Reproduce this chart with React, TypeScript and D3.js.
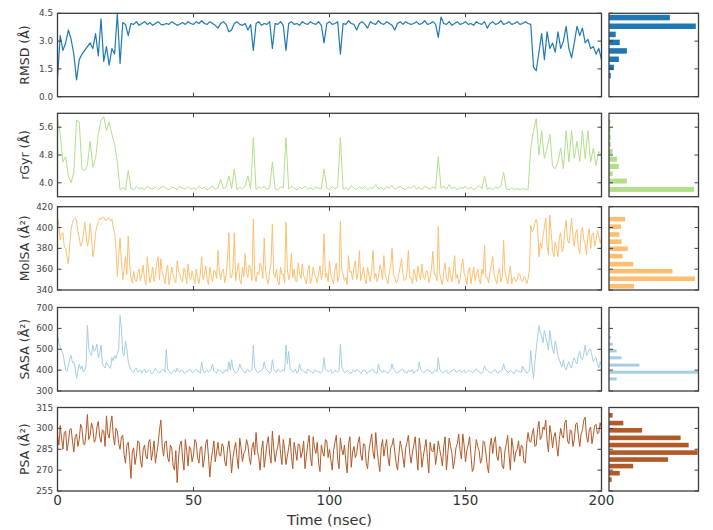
import React from 'react';
import * as d3 from 'd3';

const TIME_TICKS = [0, 50, 100, 150, 200];
const T_END = 200;

const rmsd = [
  1.0, 3.3, 2.5, 2.9, 3.6, 3.1, 2.3, 0.9, 2.0, 2.3,
  2.5, 2.7, 2.9, 2.6, 3.4, 2.2, 4.2, 1.9, 2.7, 1.7,
  2.6, 2.3, 4.5, 1.8, 4.0, 3.9, 3.3, 3.95, 3.9, 4.05,
  3.85, 3.95, 4.05, 3.9, 4.0, 3.85, 3.95, 4.05, 3.9, 3.88,
  3.95, 3.9, 4.05, 3.95, 3.85, 3.92, 4.0, 3.9, 4.05, 3.95,
  3.9, 4.05, 3.95, 4.1, 3.95, 3.9, 4.05, 3.95, 3.85, 3.7,
  3.95, 4.05, 3.9, 3.5, 3.6, 3.95, 4.05, 3.9, 3.85, 3.95,
  3.6, 3.9, 2.5, 3.95, 4.05, 3.85, 3.95, 3.9, 4.05, 2.6,
  3.95, 3.9, 4.05, 3.85, 2.5, 3.95, 4.05, 3.9, 3.95, 3.85,
  4.05, 3.95, 3.9, 4.05, 3.95, 3.9, 4.05, 3.85, 2.9, 3.95,
  4.05, 3.9, 3.95, 4.05, 2.3, 3.95, 3.9, 4.1, 3.95, 3.9,
  3.6, 3.95, 4.05, 3.9, 3.7, 4.05, 3.95, 3.9, 4.1, 3.95,
  3.9, 4.05, 3.95, 3.85, 3.6, 3.95, 4.05, 3.9, 4.05, 3.95,
  3.9, 3.95, 4.05, 3.9, 3.95, 4.1, 3.9, 3.95, 4.05, 3.9,
  3.2, 4.3, 3.95, 3.9, 4.05, 3.85, 3.95, 4.05, 3.9, 3.95,
  4.05, 3.9, 3.95, 3.85, 4.05, 3.95, 3.9, 4.05, 3.7, 3.95,
  4.05, 3.9, 3.95, 4.1, 3.9, 3.95, 4.05, 3.9, 3.95, 4.05,
  3.9, 3.95, 4.05, 3.95, 3.9, 1.6, 1.4, 2.4, 3.4, 2.0,
  3.5, 2.6, 2.9, 2.4, 3.5, 2.6, 3.0, 3.8, 2.6, 2.1,
  2.9, 3.8, 3.3, 3.7, 2.9, 3.1, 2.6, 2.7, 2.3, 2.6,
  2.0,
];

const rgyr = [
  5.85, 5.4, 4.6, 4.75, 4.2, 4.0, 4.3, 5.8, 5.75, 4.4,
  4.35, 4.5, 5.2, 4.45, 4.7, 5.4, 5.8, 5.9, 5.5, 5.75,
  5.4, 5.1, 4.6, 3.8, 3.86, 3.8, 4.35, 3.84, 3.8, 3.9,
  3.82, 3.86, 3.8, 3.9, 3.84, 3.82, 3.88, 3.8, 3.86, 3.9,
  3.83, 3.8, 3.88, 3.85, 3.8, 3.9, 3.84, 3.82, 3.89, 3.81,
  3.86, 3.8, 3.9, 3.83, 3.87, 3.8, 3.85, 3.92, 3.81, 3.86,
  4.1, 3.82, 3.88, 4.2, 3.84, 4.4, 3.8, 3.87, 3.83, 3.9,
  4.2, 3.82, 5.3, 3.8, 3.88, 3.84, 3.9, 3.81, 3.86, 4.6,
  3.83, 3.8, 3.89, 3.85, 5.3, 3.82, 3.9, 3.84, 3.8, 3.87,
  3.83, 3.9, 3.81, 3.86, 3.8, 3.88, 3.84, 3.82, 4.4, 3.85,
  3.8, 3.9, 3.83, 3.87, 5.3, 3.82, 3.86, 3.8, 3.92, 3.84,
  3.81, 3.88, 3.83, 3.9, 3.8, 3.86, 3.84, 3.95, 3.82, 3.87,
  3.8, 3.89, 3.84, 3.92, 3.81, 3.86, 3.9, 3.83, 3.8, 3.88,
  3.84, 3.93, 3.82, 3.87, 3.8, 3.9, 3.85, 3.82, 3.88, 3.83,
  4.75, 3.84, 3.9, 3.81, 3.95, 3.83, 3.88, 3.8, 3.86, 3.84,
  3.9, 3.82, 3.87, 3.8, 3.85, 3.92, 3.83, 4.2, 3.81, 3.86,
  3.8, 3.88, 3.84, 3.9, 4.3, 3.82, 3.8, 3.85, 3.81, 3.83,
  3.8, 3.84, 3.81, 3.8, 5.0, 5.5, 5.85, 4.8, 5.5, 4.7,
  5.0, 5.4, 4.5, 4.4, 4.6, 5.0, 4.4, 5.5, 4.6, 5.5,
  4.7, 5.2, 4.6, 5.5, 4.7, 5.5, 4.6, 5.0, 4.5, 4.9,
  4.8,
];

const molsa = [
  410, 402, 388, 394, 395, 381, 380, 372, 365, 384, 398, 405, 408, 409, 407, 396, 390, 382, 385, 393,
  405, 394, 382, 388, 404, 390, 372, 380, 395, 402, 405, 409, 408, 410, 410, 407, 407, 409, 409, 406,
  408, 400, 395, 380, 353, 372, 390, 368, 350, 360, 372, 355, 392, 366, 352, 347, 358, 350, 348, 356,
  360, 349, 355, 364, 350, 345, 372, 358, 347, 353, 362, 348, 355, 366, 372, 350, 370, 357, 352, 346,
  358, 364, 345, 352, 362, 355, 350, 347, 368, 358, 355, 349, 348, 361, 357, 346, 365, 353, 350, 358,
  352, 346, 360, 351, 346, 355, 372, 350, 355, 363, 350, 345, 362, 354, 348, 359, 358, 351, 378, 357,
  350, 358, 360, 347, 355, 370, 395, 352, 352, 361, 395, 349, 358, 366, 350, 346, 362, 353, 375, 356,
  352, 364, 360, 349, 408, 354, 348, 357, 355, 366, 362, 351, 390, 358, 350, 346, 358, 365, 403, 355,
  352, 360, 348, 345, 362, 355, 355, 347, 405, 360, 350, 357, 375, 352, 360, 349, 348, 366, 356, 351,
  365, 354, 350, 346, 358, 364, 346, 351, 362, 355, 352, 347, 355, 363, 350, 357, 394, 352, 356, 348,
  368, 355, 350, 346, 360, 366, 348, 352, 406, 360, 355, 349, 352, 345, 373, 357, 358, 350, 362, 368,
  350, 356, 378, 349, 355, 362, 350, 346, 362, 354, 348, 359, 378, 351, 356, 348, 352, 364, 360, 350,
  373, 355, 350, 346, 358, 363, 380, 355, 352, 347, 348, 356, 362, 370, 355, 349, 350, 357, 378, 352,
  352, 346, 360, 355, 348, 363, 355, 350, 365, 352, 350, 358, 358, 347, 352, 361, 377, 355, 355, 349,
  401, 356, 350, 345, 358, 366, 352, 348, 362, 355, 348, 357, 373, 351, 355, 346, 350, 362, 370, 356,
  352, 345, 358, 362, 346, 354, 362, 349, 355, 360, 350, 346, 360, 355, 383, 352, 352, 347, 358, 364,
  372, 355, 350, 346, 356, 361, 348, 352, 388, 357, 352, 346, 355, 363, 346, 351, 352, 348, 350, 356,
  355, 349, 348, 353, 352, 346, 350, 360, 402, 396, 398, 404, 408, 401, 372, 385, 380, 392, 400, 409,
  382, 374, 412, 395, 378, 372, 386, 380, 372, 390, 395, 377, 380, 398, 407, 388, 385, 396, 409, 392,
  382, 395, 398, 380, 375, 396, 400, 388, 385, 374, 392, 399, 380, 393, 395, 382, 388, 397, 392, 385,
  390,
];

const sasa = [
  570, 530, 510, 495, 480, 440, 400, 395, 420, 455, 470, 435, 440, 410, 360, 395, 430, 405, 420, 390,
  400, 420, 614, 500, 480, 470, 520, 490, 500, 525, 460, 480, 520, 430, 420, 410, 440, 425, 415, 408,
  460, 445, 470, 455, 480, 500, 662, 600, 480, 470, 540, 500, 440, 420, 400, 395, 390, 405, 410, 392,
  395, 402, 385, 398, 405, 388, 390, 400, 400, 383, 385, 395, 410, 398, 390, 385, 395, 402, 405, 390,
  500, 405, 395, 385, 385, 398, 400, 390, 410, 395, 390, 400, 400, 385, 385, 395, 395, 405, 400, 388,
  390, 398, 405, 392, 395, 385, 440, 398, 385, 395, 400, 390, 395, 405, 430, 395, 390, 385, 405, 398,
  395, 388, 385, 398, 400, 395, 440, 400, 450, 405, 395, 385, 390, 398, 430, 410, 400, 392, 385, 400,
  405, 392, 395, 400, 520, 410, 400, 388, 390, 398, 395, 405, 440, 410, 400, 395, 385, 392, 450, 405,
  395, 388, 405, 398, 390, 400, 400, 395, 520, 430, 490, 410, 400, 390, 395, 405, 385, 392, 430, 400,
  400, 395, 390, 385, 405, 398, 395, 390, 385, 400, 400, 392, 395, 385, 390, 398, 460, 405, 400, 392,
  395, 402, 385, 392, 400, 395, 390, 398, 525, 420, 400, 388, 390, 400, 395, 385, 385, 398, 400, 392,
  405, 398, 395, 385, 390, 402, 400, 388, 385, 395, 395, 402, 405, 390, 390, 385, 430, 400, 395, 388,
  400, 392, 390, 385, 395, 400, 430, 405, 400, 388, 385, 395, 395, 402, 405, 390, 390, 385, 400, 395,
  395, 402, 385, 390, 400, 395, 440, 405, 395, 388, 390, 398, 405, 395, 395, 385, 385, 398, 400, 392,
  460, 405, 395, 388, 390, 398, 400, 385, 385, 395, 395, 402, 405, 390, 390, 398, 400, 388, 395, 402,
  385, 392, 400, 395, 395, 388, 390, 402, 405, 395, 395, 385, 385, 398, 420, 402, 400, 392, 390, 385,
  395, 402, 400, 388, 385, 395, 395, 400, 430, 405, 400, 388, 390, 398, 395, 385, 385, 400, 400, 392,
  395, 388, 420, 402, 400, 385, 390, 398, 494, 420, 358, 440, 500, 560, 614, 580, 560, 530, 590, 560,
  530, 495, 590, 540, 500, 480, 540, 510, 470, 450, 430, 415, 450, 410, 400, 425, 440, 420, 410, 445,
  460, 440, 430, 470, 490, 455, 450, 480, 520, 470, 480, 500, 500, 470, 440, 455, 460, 430, 410, 440,
  420,
];

const psa = [
  295, 288, 302, 293, 285, 297, 298, 284, 290, 299, 300, 291, 283, 294, 296, 287, 292, 303, 300, 289,
  288, 297, 310, 292, 295, 304, 300, 290, 292, 301, 305, 294, 290, 299, 298, 287, 309, 296, 293, 303,
  309, 295, 288, 300, 298, 289, 285, 294, 295, 281, 275, 288, 290, 279, 264, 283, 286, 274, 280, 291,
  290, 277, 272, 285, 288, 280, 278, 290, 292, 277, 283, 291, 275, 282, 289, 299, 306, 287, 280, 290,
  291, 279, 276, 288, 286, 273, 270, 284, 261, 279, 288, 291, 278, 270, 292, 284, 273, 287, 285, 276,
  281, 292, 290, 279, 275, 286, 287, 272, 278, 289, 292, 280, 265, 277, 284, 291, 276, 283, 290, 281,
  280, 289, 287, 276, 273, 285, 291, 282, 268, 279, 285, 290, 279, 271, 293, 286, 276, 282, 284, 292,
  288, 279, 274, 286, 290, 281, 297, 284, 279, 270, 285, 291, 272, 280, 289, 294, 281, 275, 298, 286,
  276, 283, 287, 295, 282, 274, 292, 285, 274, 280, 286, 293, 280, 271, 290, 284, 277, 289, 288, 279,
  283, 291, 271, 280, 289, 295, 279, 273, 294, 286, 282, 290, 275, 269, 288, 283, 280, 292, 291, 279,
  285, 277, 270, 284, 290, 295, 278, 271, 293, 285, 281, 288, 276, 268, 289, 294, 272, 283, 287, 279,
  282, 290, 294, 281, 277, 289, 288, 275, 271, 284, 290, 296, 283, 278, 297, 285, 276, 269, 286, 292,
  280, 287, 292, 279, 273, 286, 288, 293, 283, 275, 270, 281, 291, 286, 279, 272, 286, 290, 295, 282,
  275, 283, 288, 294, 281, 270, 293, 285, 272, 280, 286, 292, 279, 268, 290, 284, 283, 289, 274, 281,
  291, 285, 280, 273, 287, 294, 270, 282, 293, 287, 282, 271, 277, 286, 289, 296, 284, 278, 296, 288,
  276, 284, 288, 294, 281, 269, 271, 283, 292, 287, 284, 275, 278, 291, 290, 282, 273, 268, 287, 293,
  282, 290, 294, 280, 277, 287, 286, 273, 271, 284, 289, 295, 281, 270, 293, 286, 276, 283, 285, 291,
  280, 288, 287, 276, 275, 289, 297, 291, 290, 296, 300, 287, 288, 299, 305, 292, 294, 301, 299, 306,
  291, 283, 302, 296, 286, 294, 297, 288, 280, 292, 300, 295, 293, 304, 306, 291, 289, 299, 298, 287,
  292, 303, 304, 295, 287, 296, 299, 306, 308, 294, 290, 299, 301, 289, 295, 302, 303, 296, 297, 304,
  300,
];

// Histogram bins (centre value) and relative counts
const rmsdHistBins = [1.14, 1.58, 2.02, 2.47, 2.93, 3.36, 3.8, 4.27];
const rmsdHistCounts = [0.02, 0.055, 0.11, 0.2, 0.12, 0.075, 0.97, 0.68];
const rgyrHistBins = [3.81, 4.05, 4.26, 4.47, 4.68, 4.9, 5.1, 5.31, 5.53, 5.75];
const rgyrHistCounts = [0.95, 0.2, 0.04, 0.11, 0.09, 0.04, 0.02, 0.02, 0.015, 0.015];
const molsaHistBins = [343.6, 350.8, 358.1, 364.8, 372.5, 379.6, 386.4, 393.3, 400.8, 408];
const molsaHistCounts = [0.28, 0.96, 0.71, 0.27, 0.15, 0.21, 0.14, 0.116, 0.134, 0.18];
const sasaHistBins = [358, 390, 424, 459, 492, 524, 556, 590, 622, 655];
const sasaHistCounts = [0.085, 1.0, 0.34, 0.14, 0.085, 0.04, 0.02, 0.01, 0.006, 0.006];
const psaHistBins = [263.2, 267.8, 272.9, 277.6, 282.6, 288, 293.2, 298.6, 303.8, 309.4];
const psaHistCounts = [0.03, 0.12, 0.27, 0.66, 0.99, 0.89, 0.8, 0.37, 0.16, 0.04];

const rmsdTicks = [0, 1.5, 3.0, 4.5];
const rgyrTicks = [4.0, 4.8, 5.6];
const molsaTicks = [340, 360, 380, 400, 420];
const sasaTicks = [300, 400, 500, 600, 700];
const psaTicks = [255, 270, 285, 300, 315];

const rows = [
  { label: 'RMSD (Å)', values: rmsd, domain: [0, 4.5], ticks: rmsdTicks, fmt: '.1f', color: '#1f78b4', hb: rmsdHistBins, hc: rmsdHistCounts, top: 13.3, bottom: 96.7, barH: 5.5, lw: 1.2 },
  { label: 'rGyr (Å)', values: rgyr, domain: [3.6, 6.0], ticks: rgyrTicks, fmt: '.1f', color: '#b2df8a', hb: rgyrHistBins, hc: rgyrHistCounts, top: 113.3, bottom: 196.7, barH: 5, lw: 1 },
  { label: 'MolSA (Å²)', values: molsa, domain: [340, 420], ticks: molsaTicks, fmt: 'd', color: '#fdbf6f', hb: molsaHistBins, hc: molsaHistCounts, top: 206.7, bottom: 290, barH: 4.6, lw: 1 },
  { label: 'SASA (Å²)', values: sasa, domain: [300, 700], ticks: sasaTicks, fmt: 'd', color: '#a6cee3', hb: sasaHistBins, hc: sasaHistCounts, top: 307.5, bottom: 391, barH: 3, lw: 1 },
  { label: 'PSA (Å²)', values: psa, domain: [255, 315], ticks: psaTicks, fmt: 'd', color: '#b15928', hb: psaHistBins, hc: psaHistCounts, top: 407.5, bottom: 491, barH: 4.6, lw: 1 },
];

const X0 = 57.5, X1 = 601.5, H0 = 609, H1 = 698.5;
const FONT = '"DejaVu Sans", sans-serif';
const FRAME = '#3c3c3c';

export default function App() {
  const x = d3.scaleLinear().domain([0, T_END]).range([X0, X1]);
  const hx = d3.scaleLinear().domain([0, 1]).range([H0, H1]);
  return (
    <svg width={713} height={530} style={{ position: 'absolute', left: 0, top: 0, background: '#fff' }} fontFamily={FONT}>
      <defs>
        {rows.map((r, i) => (
          <clipPath id={`clip${i}`} key={i}>
            <rect x={X0} y={r.top} width={X1 - X0} height={r.bottom - r.top} />
          </clipPath>
        ))}
      </defs>
      {rows.map((r, i) => {
        const y = d3.scaleLinear().domain(r.domain).range([r.bottom, r.top]);
        const step = T_END / (r.values.length - 1);
        const line = d3.line<number>().x((_, k) => x(k * step)).y((v) => y(v));
        const f = d3.format(r.fmt);
        const mid = (r.top + r.bottom) / 2;
        return (
          <g key={i}>
            <path d={line(r.values) || ''} fill="none" stroke={r.color} strokeWidth={r.lw} strokeLinejoin="round" clipPath={`url(#clip${i})`} />
            {r.hb.map((b, k) => (
              <rect key={k} x={H0} y={y(b) - r.barH / 2} width={hx(r.hc[k]) - H0} height={r.barH} fill={r.color} />
            ))}
            <rect x={X0} y={r.top} width={X1 - X0} height={r.bottom - r.top} fill="none" stroke={FRAME} strokeWidth={1.3} />
            <rect x={H0} y={r.top} width={H1 - H0} height={r.bottom - r.top} fill="none" stroke={FRAME} strokeWidth={1.3} />
            {r.ticks.map((t, k) => (
              <g key={k}>
                <line x1={X0} x2={X0 + 4} y1={y(t)} y2={y(t)} stroke={FRAME} strokeWidth={1} />
                <line x1={X1 - 4} x2={X1} y1={y(t)} y2={y(t)} stroke={FRAME} strokeWidth={1} />
                <line x1={H0} x2={H0 + 4} y1={y(t)} y2={y(t)} stroke={FRAME} strokeWidth={1} />
                <line x1={H1 - 4} x2={H1} y1={y(t)} y2={y(t)} stroke={FRAME} strokeWidth={1} />
                <text x={53} y={y(t)} dy="0.35em" textAnchor="end" fontSize={8.8} fill="#444">{f(t)}</text>
              </g>
            ))}
            {TIME_TICKS.map((t, k) => (
              <g key={k}>
                <line x1={x(t)} x2={x(t)} y1={r.bottom} y2={r.bottom - 4} stroke={FRAME} strokeWidth={1} />
                <line x1={x(t)} x2={x(t)} y1={r.top} y2={r.top + 4} stroke={FRAME} strokeWidth={1} />
              </g>
            ))}
            <text transform={`translate(25,${mid}) rotate(-90)`} textAnchor="middle" dy="0.35em" fontSize={12.5} fill="#333">{r.label}</text>
          </g>
        );
      })}
      {TIME_TICKS.map((t, k) => (
        <text key={k} x={x(t)} y={505} textAnchor="middle" fontSize={13.5} fill="#333">{t}</text>
      ))}
      <text x={(X0 + X1) / 2} y={525} textAnchor="middle" fontSize={14.5} fill="#333">Time (nsec)</text>
    </svg>
  );
}
